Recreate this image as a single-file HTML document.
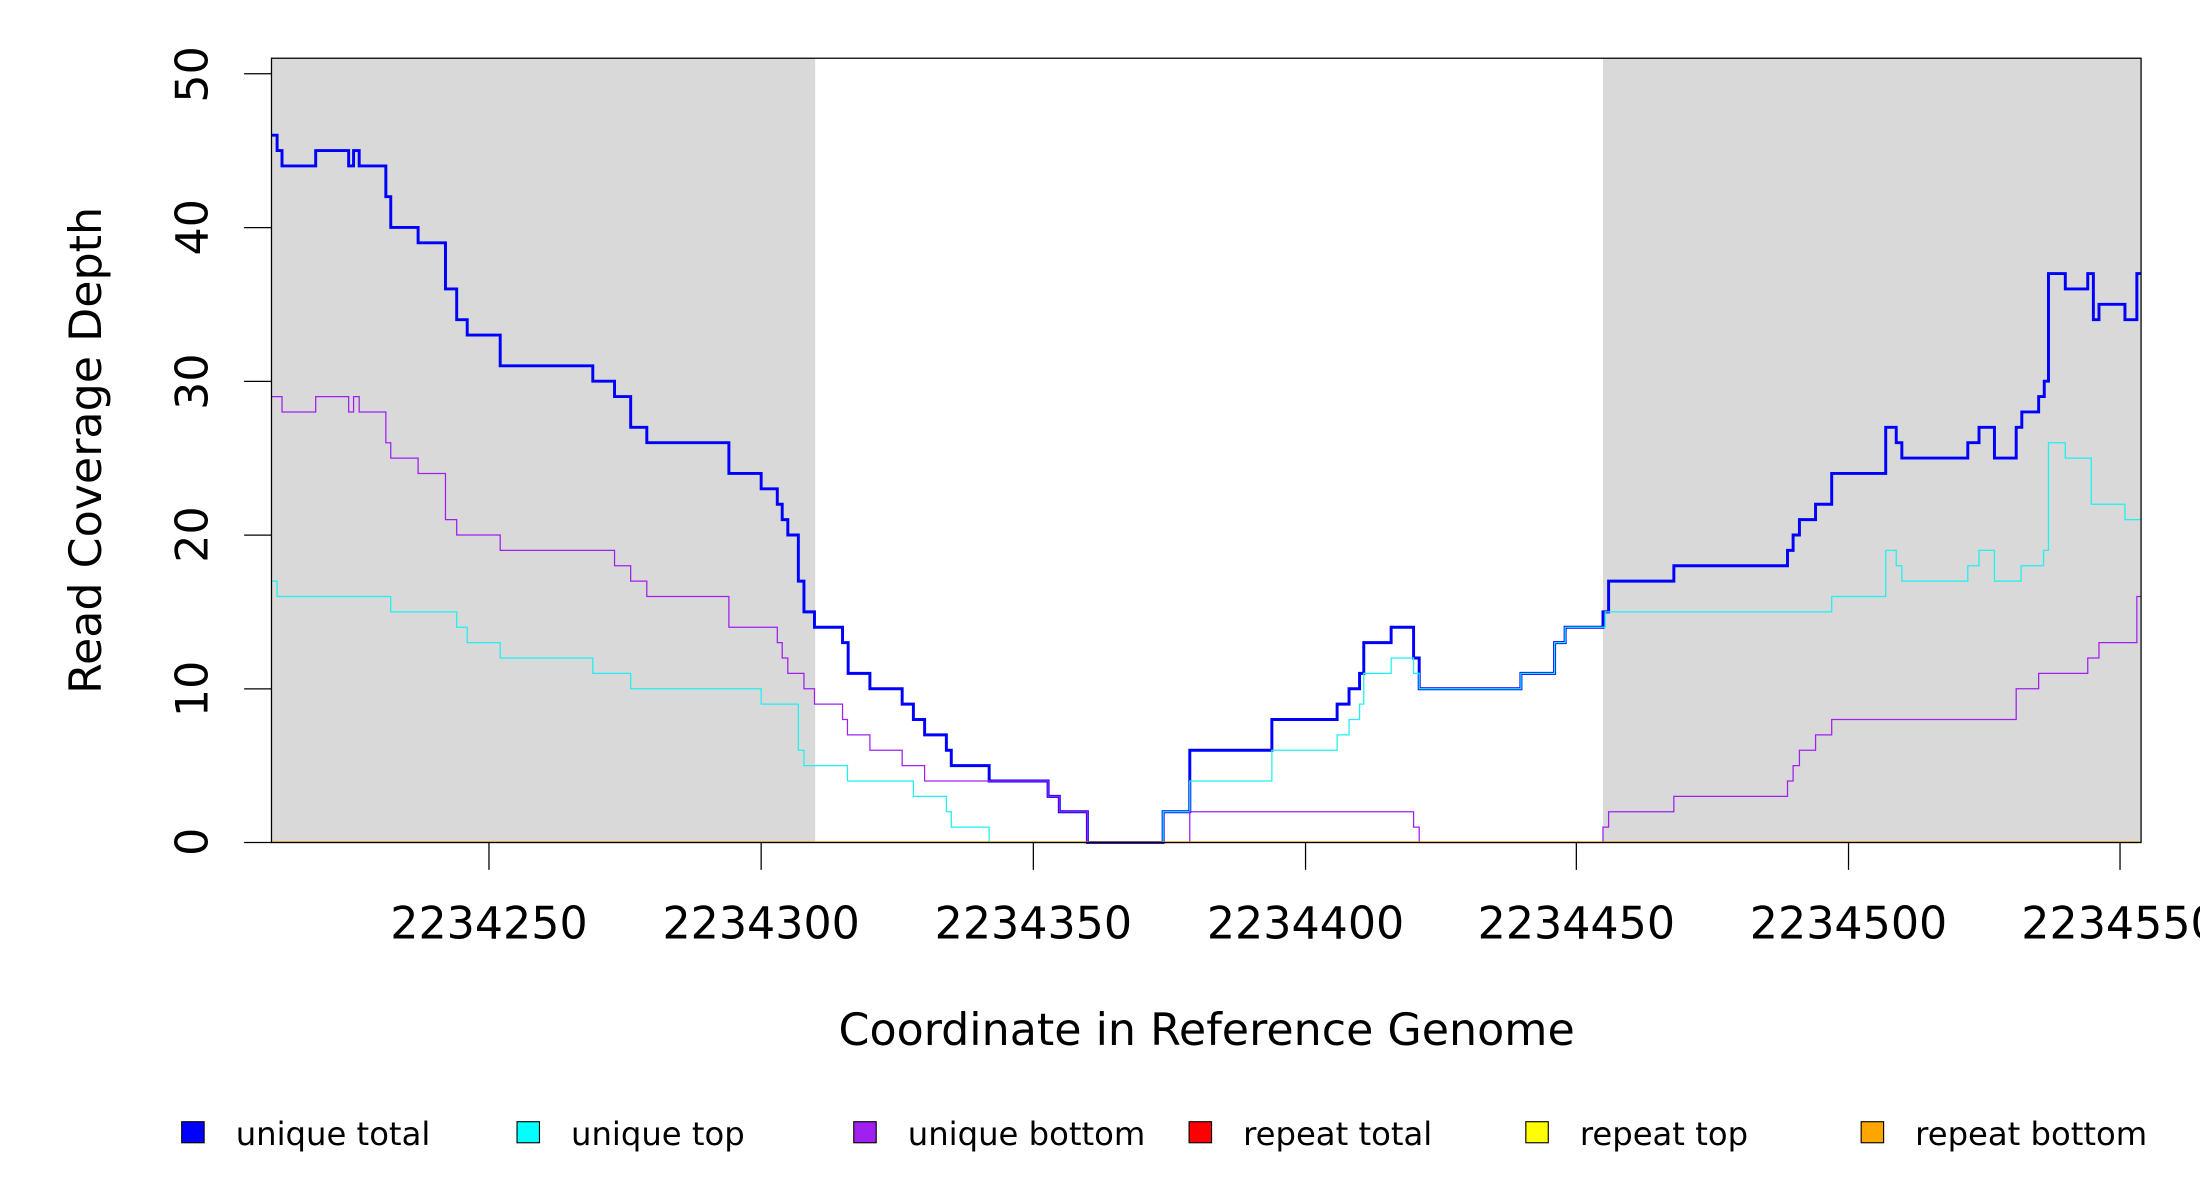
<!DOCTYPE html>
<html><head><meta charset="utf-8"><style>
html,body{margin:0;padding:0;background:#fff;}
svg{display:block;}
text{font-family:"DejaVu Sans","Liberation Sans",sans-serif;fill:#000;}
</style></head><body>
<svg id="s" width="2200" height="1200" viewBox="0 0 1568 855.3" preserveAspectRatio="none" xmlns="http://www.w3.org/2000/svg">
<rect x="0" y="0" width="1568" height="856" fill="#fff"/>
<rect x="193.5" y="41.5" width="387.5" height="558.5" fill="#d9d9d9"/>
<rect x="1142.5" y="41.5" width="383.5" height="558.5" fill="#d9d9d9"/>
<g id="lines"></g>
<rect x="193.5" y="41.5" width="1332.5" height="559" fill="none" stroke="#000" stroke-width="0.9"/>
<g stroke="#000" stroke-width="0.9">
<line x1="174" y1="600.5" x2="193.5" y2="600.5"/>
<line x1="174" y1="491" x2="193.5" y2="491"/>
<line x1="174" y1="381.4" x2="193.5" y2="381.4"/>
<line x1="174" y1="271.8" x2="193.5" y2="271.8"/>
<line x1="174" y1="162.2" x2="193.5" y2="162.2"/>
<line x1="174" y1="52.6" x2="193.5" y2="52.6"/>
<line x1="348.5" y1="600.5" x2="348.5" y2="620"/>
<line x1="542.5" y1="600.5" x2="542.5" y2="620"/>
<line x1="736.5" y1="600.5" x2="736.5" y2="620"/>
<line x1="930.5" y1="600.5" x2="930.5" y2="620"/>
<line x1="1123.5" y1="600.5" x2="1123.5" y2="620"/>
<line x1="1317.5" y1="600.5" x2="1317.5" y2="620"/>
<line x1="1511" y1="600.5" x2="1511" y2="620"/>
</g>
<g font-size="31.6" text-anchor="middle">
<text transform="translate(148,600) rotate(-90)">0</text>
<text transform="translate(148,491) rotate(-90)">10</text>
<text transform="translate(148,381) rotate(-90)">20</text>
<text transform="translate(148,272) rotate(-90)">30</text>
<text transform="translate(148,162) rotate(-90)">40</text>
<text transform="translate(148,53) rotate(-90)">50</text>
<text x="348.5" y="669">2234250</text>
<text x="542.5" y="669">2234300</text>
<text x="736.5" y="669">2234350</text>
<text x="930.5" y="669">2234400</text>
<text x="1123.5" y="669">2234450</text>
<text x="1317.5" y="669">2234500</text>
<text x="1511" y="669">2234550</text>
<text x="860" y="745">Coordinate in Reference Genome</text>
<text transform="translate(72,321) rotate(-90)">Read Coverage Depth</text>
</g>
<g font-size="23" stroke="#000" stroke-width="0.8">
<rect x="129.5" y="799.5" width="16" height="15" fill="#0000ff"/>
<rect x="368.5" y="799.5" width="16" height="15" fill="#00ffff"/>
<rect x="608.5" y="799.5" width="16" height="15" fill="#a020f0"/>
<rect x="847.5" y="799.5" width="16" height="15" fill="#ff0000"/>
<rect x="1087.5" y="799.5" width="16" height="15" fill="#ffff00"/>
<rect x="1326.5" y="799.5" width="16" height="15" fill="#ffa500"/>
</g>
<g font-size="23">
<text x="168" y="816">unique total</text>
<text x="407" y="816">unique top</text>
<text x="647" y="816">unique bottom</text>
<text x="886" y="816">repeat total</text>
<text x="1126" y="816">repeat top</text>
<text x="1365" y="816">repeat bottom</text>
</g>
</svg>
<script>
var Y=function(v){return 600.5-v*10.96;};
function path(pts,end){var d="M193.5,"+Y(pts[0][1]);for(var i=1;i<pts.length;i++){d+=" H"+pts[i][0]+" V"+Y(pts[i][1]);}d+=" H"+end;return d;}
var blue=[[193,46],[197.5,45],[201,44],[225,45],[248.5,44],[252,45],[256,44],[275,42],[278.5,40],[298,39],[317.5,36],[325.5,34],[333,33],[356.5,31],[422.5,30],[438,29],[449.5,27],[461,26],[519.5,24],[542.5,23],[554,22],[557.5,21],[561.5,20],[569,17],[573,15],[580.5,14],[600.5,13],[604.5,11],[620,10],[643,9],[651,8],[659,7],[674.5,6],[678,5],[705,4],[747,3],[755,2],[775,0],[829,2],[848,6],[906.5,8],[953,9],[961.5,10],[969,11],[972,13],[991.5,14],[1007.5,12],[1011.5,10],[1084,11],[1108,13],[1115.5,14],[1142.5,15],[1146.5,17],[1193,18],[1274,19],[1278,20],[1282.5,21],[1294,22],[1305.5,24],[1344,27],[1351.5,26],[1355.5,25],[1402.5,26],[1410.5,27],[1421.5,25],[1437,27],[1441,28],[1453,29],[1457,30],[1460,37],[1472,36],[1488,37],[1492,34],[1496,35],[1514.5,34],[1523,37]];
var cyan=[[193,17],[197.5,16],[278.5,15],[325.5,14],[333,13],[356.5,12],[422.5,11],[449.5,10],[542.5,9],[569,6],[573,5],[604,4],[651,3],[674.5,2],[678,1],[705,0],[829,2],[848,4],[906.5,6],[953,7],[961.5,8],[969,9],[972,11],[991.5,12],[1007.5,11],[1011.5,10],[1084,11],[1108,13],[1115.5,14],[1144,15],[1305.5,16],[1344,19],[1351.5,18],[1355.5,17],[1402.5,18],[1410.5,19],[1421.5,17],[1440.5,18],[1456.5,19],[1460,26],[1472,25],[1490.5,22],[1514.5,21]];
var purp=[[193,29],[201,28],[225,29],[248.5,28],[252,29],[256,28],[275,26],[278.5,25],[298,24],[317.5,21],[325.5,20],[356.5,19],[438,18],[449.5,17],[461,16],[519.5,14],[554,13],[557.5,12],[561.5,11],[573,10],[580.5,9],[600.5,8],[604,7],[620,6],[643,5],[659,4],[747,3],[755,2],[775,0],[848,2],[1007.5,1],[1011.5,0],[1142.5,1],[1146.5,2],[1193,3],[1274,4],[1278,5],[1282.5,6],[1294,7],[1305.5,8],[1437,10],[1453,11],[1488,12],[1496,13],[1523,16]];
var g=document.getElementById("lines"),ns="http://www.w3.org/2000/svg";
function add(d,c,w){var p=document.createElementNS(ns,"path");p.setAttribute("d",d);p.setAttribute("fill","none");p.setAttribute("stroke",c);p.setAttribute("stroke-width",w);g.appendChild(p);}
add(path(blue,1526),"#0000ff",2.1);
add(path(cyan,1526),"#1ff0f0",0.9);
add(path(purp,1526),"#a020f0",0.9);
add("M193.5,600.3 H1526","#ffa500",1.2);
</script>
</body></html>
